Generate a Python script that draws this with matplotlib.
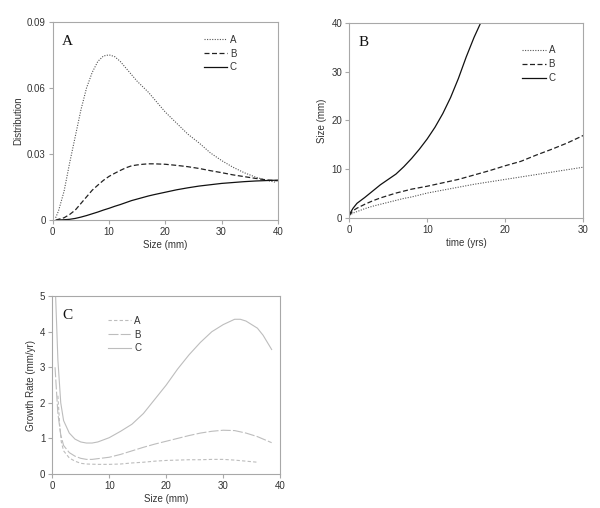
import matplotlib
matplotlib.use("Agg")
import matplotlib.pyplot as plt

plt.rcParams['font.family'] = ['Liberation Sans', 'DejaVu Sans']

# ---------------- Panel A: Distribution vs Size ----------------
a_size_A = [0.5, 1, 2, 3, 4, 5, 6, 7, 8, 9, 10, 11, 12, 13, 14, 15, 16, 17, 18, 20, 22, 24, 26, 28, 30, 32, 34, 36, 38, 39.5]
a_dist_A = [0.001, 0.004, 0.013, 0.026, 0.038, 0.050, 0.060, 0.067, 0.072, 0.0745, 0.075, 0.0742, 0.072, 0.069, 0.066,
            0.063, 0.0605, 0.058, 0.055, 0.049, 0.044, 0.039, 0.035, 0.0305, 0.027, 0.024, 0.0215, 0.0195, 0.018, 0.0172]
a_size_B = [0.5, 1, 2, 3, 4, 5, 6, 7, 8, 9, 10, 11, 12, 13, 14, 15, 16, 17, 18, 20, 22, 24, 26, 28, 30, 32, 34, 36, 38, 40]
a_dist_B = [0.0, 0.0003, 0.001, 0.0025, 0.0045, 0.0075, 0.0105, 0.0135, 0.0158, 0.018, 0.0198, 0.0212, 0.0225, 0.0237,
            0.0246, 0.025, 0.0253, 0.0255, 0.0255, 0.0253, 0.0248, 0.0242, 0.0234, 0.0224, 0.0215, 0.0205, 0.0197,
            0.0189, 0.0182, 0.0178]
a_size_C = [1, 2, 3, 4, 5, 6, 7, 8, 9, 10, 11, 12, 13, 14, 15, 16, 17, 18, 20, 22, 24, 26, 28, 30, 32, 34, 36, 38, 40]
a_dist_C = [0.0, 0.0001, 0.0003, 0.0007, 0.0013, 0.002, 0.0028, 0.0036, 0.0045, 0.0053, 0.0062, 0.007, 0.0079, 0.0088,
            0.0095, 0.0102, 0.0109, 0.0115, 0.0126, 0.0137, 0.0146, 0.0154, 0.016, 0.0166, 0.017, 0.0174, 0.0177,
            0.0179, 0.0181]

# ---------------- Panel B: Size vs time ----------------
b_time_AB = [0, 0.5, 1, 2, 3, 4, 5, 6, 7, 8, 9, 10, 12, 14, 16, 18, 20, 22, 24, 26, 28, 30]
b_size_A = [0.5, 1.0, 1.3, 1.9, 2.4, 2.8, 3.2, 3.6, 4.0, 4.3, 4.7, 5.1, 5.7, 6.3, 6.9, 7.4, 7.9, 8.4, 8.9, 9.4, 9.9, 10.4]
b_size_B = [0.5, 1.5, 2.0, 2.8, 3.5, 4.1, 4.6, 5.1, 5.5, 5.9, 6.2, 6.5, 7.2, 7.9, 8.8, 9.7, 10.7, 11.6, 12.9, 14.1, 15.4, 16.9]
b_time_C = [0, 0.2, 0.5, 1, 2, 3, 4, 5, 6, 7, 8, 9, 10, 11, 12, 13, 14, 15, 16, 17]
b_size_C = [0.5, 1.2, 2.0, 3.0, 4.2, 5.5, 6.8, 7.9, 9.0, 10.5, 12.2, 14.1, 16.2, 18.6, 21.4, 24.7, 28.6, 33.0, 37.0, 40.5]

# ---------------- Panel C: Growth rate vs Size ----------------
c_size_A = [1, 1.3, 1.6, 2, 3, 4, 5, 6, 8, 10, 12, 14, 16, 18, 20, 22, 24, 26, 28, 30, 32, 34, 36]
c_rate_A = [2.2, 1.4, 0.9, 0.65, 0.45, 0.36, 0.30, 0.28, 0.27, 0.27, 0.28, 0.31, 0.33, 0.36, 0.38, 0.39, 0.40, 0.40,
            0.41, 0.41, 0.39, 0.36, 0.33]
c_size_B = [0.5, 0.8, 1, 1.5, 2, 3, 4, 5, 6, 7, 8, 10, 12, 14, 16, 18, 20, 22, 24, 26, 28, 30, 32, 34, 36, 38.5]
c_rate_B = [3.0, 2.2, 1.7, 1.1, 0.8, 0.6, 0.5, 0.44, 0.41, 0.41, 0.43, 0.47, 0.55, 0.65, 0.75, 0.84, 0.92, 1.0, 1.08,
            1.15, 1.2, 1.23, 1.22, 1.15, 1.05, 0.88]
c_size_C = [0.6, 1, 1.5, 2, 3, 4, 5, 6, 7, 8, 10, 12, 14, 16, 18, 20, 22, 24, 26, 28, 30, 32, 33, 34, 36, 37, 38.5]
c_rate_C = [5.0, 3.2, 2.0, 1.5, 1.15, 0.98, 0.9, 0.87, 0.87, 0.9, 1.02, 1.2, 1.4, 1.7, 2.1, 2.5, 2.95, 3.35, 3.7, 4.0,
            4.2, 4.35, 4.35, 4.3, 4.1, 3.9, 3.5]

series_labels = ["A", "B", "C"]

fig = plt.figure(figsize=(6.0, 5.08), dpi=100)

spine_col = '#a8a8a8'
text_col = '#333333'
fs = 7


def style(ax):
    for side in ['top', 'right', 'left', 'bottom']:
        ax.spines[side].set_color(spine_col)
        ax.spines[side].set_linewidth(0.8)
    ax.tick_params(direction='out', length=3, width=0.8, color=spine_col,
                   labelsize=fs, labelcolor=text_col, pad=2)


def legend(ax, x, y, color=text_col):
    leg = ax.legend(loc='upper left', bbox_to_anchor=(x, y), frameon=False, fontsize=fs,
                    handlelength=2.4, handletextpad=0.3, labelspacing=0.4, borderpad=0,
                    borderaxespad=0)
    for t in leg.get_texts():
        t.set_color(color)


dot_style = dict(color='#555555', lw=0.8, ls=(0, (1, 1.3)))
dash_style = dict(color='#222222', lw=0.9, ls=(0, (4, 2)))
solid_style = dict(color='#111111', lw=0.9, ls='-')

# Panel A
axA = fig.add_axes([0.088, 0.567, 0.375, 0.39])
axA.plot(a_size_A, a_dist_A, label=series_labels[0], **dot_style)
axA.plot(a_size_B, a_dist_B, label=series_labels[1], **dash_style)
axA.plot(a_size_C, a_dist_C, label=series_labels[2], **solid_style)
axA.set_xlim(0, 40)
axA.set_ylim(0, 0.09)
axA.set_xticks([0, 10, 20, 30, 40])
axA.set_yticks([0, 0.03, 0.06, 0.09])
axA.set_yticklabels(["0", "0.03", "0.06", "0.09"])
axA.set_xlabel("Size (mm)", fontsize=fs, color=text_col, labelpad=2)
axA.set_ylabel("Distribution", fontsize=fs, color=text_col, labelpad=3)
style(axA)
legend(axA, 0.67, 0.935)
axA.text(0.04, 0.9, "A", transform=axA.transAxes, fontsize=11, family='Liberation Serif',
         va='center', ha='left', color='#111111')

# Panel B
axB = fig.add_axes([0.582, 0.571, 0.39, 0.384])
axB.plot(b_time_AB, b_size_A, label=series_labels[0], **dot_style)
axB.plot(b_time_AB, b_size_B, label=series_labels[1], **dash_style)
axB.plot(b_time_C, b_size_C, label=series_labels[2], **solid_style)
axB.set_xlim(0, 30)
axB.set_ylim(0, 40)
axB.set_xticks([0, 10, 20, 30])
axB.set_yticks([0, 10, 20, 30, 40])
axB.set_xlabel("time (yrs)", fontsize=fs, color=text_col, labelpad=2)
axB.set_ylabel("Size (mm)", fontsize=fs, color=text_col, labelpad=3)
style(axB)
legend(axB, 0.74, 0.885)
axB.text(0.04, 0.9, "B", transform=axB.transAxes, fontsize=11, family='Liberation Serif',
         va='center', ha='left', color='#111111')

# Panel C
light = '#bdbdbd'
axC = fig.add_axes([0.087, 0.067, 0.38, 0.35])
axC.plot(c_size_A, c_rate_A, color=light, lw=0.8, ls=(0, (3, 2)), label=series_labels[0])
axC.plot(c_size_B, c_rate_B, color=light, lw=0.8, ls=(0, (9, 2)), label=series_labels[1])
axC.plot(c_size_C, c_rate_C, color=light, lw=0.8, ls='-', label=series_labels[2])
axC.set_xlim(0, 40)
axC.set_ylim(0, 5)
axC.set_xticks([0, 10, 20, 30, 40])
axC.set_yticks([0, 1, 2, 3, 4, 5])
axC.set_xlabel("Size (mm)", fontsize=fs, color=text_col, labelpad=2)
axC.set_ylabel("Growth Rate (mm/yr)", fontsize=fs, color=text_col, labelpad=3)
style(axC)
legend(axC, 0.245, 0.89)
axC.text(0.045, 0.89, "C", transform=axC.transAxes, fontsize=11, family='Liberation Serif',
         va='center', ha='left', color='#111111')

fig.savefig("out.png", dpi=100, facecolor='white')
